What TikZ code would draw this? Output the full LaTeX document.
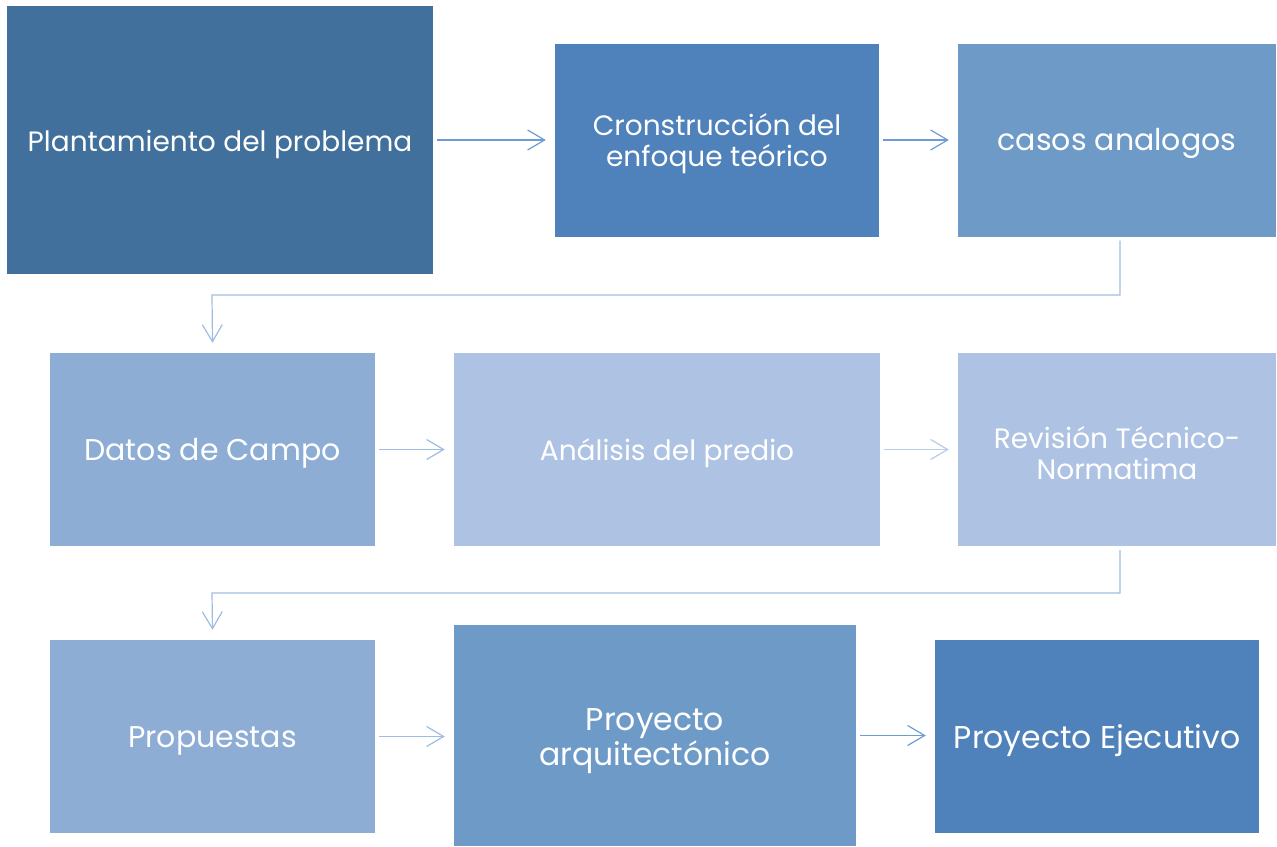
\documentclass[tikz,border=0pt]{standalone}
\usepackage{fontspec}
\setmainfont{Poppins}
\usetikzlibrary{arrows.meta}
\definecolor{cA}{HTML}{41709C}
\definecolor{cB}{HTML}{4F81BA}
\definecolor{cC}{HTML}{6E9AC8}
\definecolor{cD}{HTML}{8DADD5}
\definecolor{cE}{HTML}{AEC3E3}
\definecolor{arA}{HTML}{6D9DD3}
\definecolor{arE}{HTML}{B8CCE8}
\definecolor{arL}{HTML}{9FBDE3}
\tikzset{
  box/.style={draw=none, inner sep=0pt},
  txt/.style={inner sep=0pt, text=white, align=center, yshift=-4pt},
  fa/.style={font=\fontsize{28}{31}\selectfont},
  fb/.style={font=\fontsize{30}{33}\selectfont},
  fc/.style={font=\fontsize{31.5}{35}\selectfont},
  conn/.style={draw=arA, line width=1.2pt, -{Straight Barb[length=17pt,width=20pt,line width=1.2pt]}},
}
\begin{document}
\begin{tikzpicture}[x=1pt,y=-1pt]
\useasboundingbox (0,0) rectangle (1277,846);
\fill[white] (0,0) rectangle (1277,846);
% boxes
\node[box, fill=cA, minimum width=426pt, minimum height=268pt] (b1) at (220,140) {};
\node[box, fill=cB, minimum width=324pt, minimum height=193pt] (b2) at (717,140) {};
\node[box, fill=cC, minimum width=318pt, minimum height=193pt] (b3) at (1117,140) {};
\node[box, fill=cD, minimum width=325pt, minimum height=193pt] (b4) at (212.5,449.5) {};
\node[box, fill=cE, minimum width=426pt, minimum height=193pt] (b5) at (667,449.5) {};
\node[box, fill=cE, minimum width=318pt, minimum height=193pt] (b6) at (1117,449.5) {};
\node[box, fill=cD, minimum width=325pt, minimum height=193pt] (b7) at (212.5,736.5) {};
\node[box, fill=cC, minimum width=402pt, minimum height=221pt] (b8) at (655,735.5) {};
\node[box, fill=cB, minimum width=324pt, minimum height=193pt] (b9) at (1097,736.5) {};
% texts
\node[txt, fa] (t1) at (b1.center) {Plantamiento del problema};
\node[txt, fa] (t2) at (b2.center) {Cronstrucción del\\enfoque teórico};
\node[txt, fb, yshift=1pt] (t3) at (b3.center) {casos analogos};
\node[txt, fb] (t4) at (b4.center) {Datos de Campo};
\node[txt, fa] (t5) at (b5.center) {Análisis del predio};
\node[txt, fa] (t6) at (b6.center) {Revisión Técnico-\\Normatima};
\node[txt, fb] (t7) at (b7.center) {Propuestas};
\node[txt, fc, yshift=-2pt] (t8) at (b8.center) {Proyecto\\arquitectónico};
\node[txt, fc] (t9) at (b9.center) {Proyecto Ejecutivo};
% connectors
\draw[conn] ([xshift=4pt]b1.east) -- ([xshift=-9pt]b1.east -| b2.west);
\draw[conn] ([xshift=4pt]b2.east) -- ([xshift=-9pt]b2.east -| b3.west);
\draw[conn, draw=arL] ([yshift=-4pt]b3.south -| 1120,0) |- (212,295) -- ([yshift=10pt]b4.north);
\draw[conn, draw=arL] ([xshift=4pt]b4.east) -- ([xshift=-9pt]b4.east -| b5.west);
\draw[conn, draw=arE] ([xshift=4pt]b5.east) -- ([xshift=-9pt]b5.east -| b6.west);
\draw[conn, draw=arL] ([yshift=-4pt]b6.south -| 1120,0) |- (212,593) -- ([yshift=10pt]b7.north);
\draw[conn, draw=arL] ([xshift=4pt]b7.east) -- ([xshift=-9pt]b7.east -| b8.west);
\draw[conn] ([xshift=4pt]b8.east) -- ([xshift=-9pt]b8.east -| b9.west);
\end{tikzpicture}
\end{document}
